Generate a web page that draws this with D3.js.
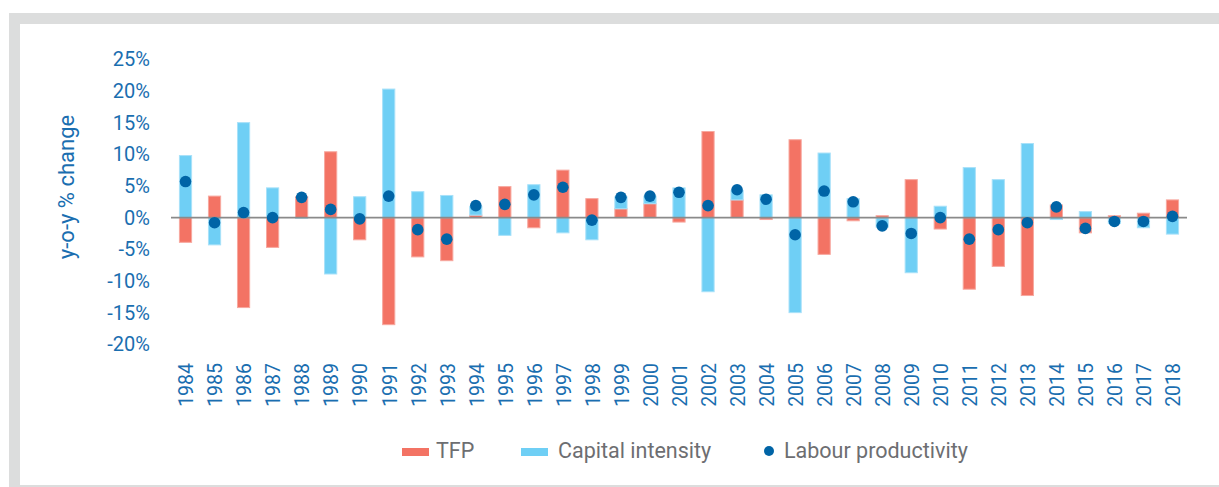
<!DOCTYPE html>
<html>
<head>
<meta charset="utf-8">
<script src="https://cdn.jsdelivr.net/npm/d3@7"></script>
<style>
  html, body { margin: 0; padding: 0; background: #fff; }
  #chart { width: 1219px; height: 487px; }
  text { font-family: Roboto, "Open Sans", sans-serif; }
</style>
</head>
<body>
<div id="chart"></div>
<script>
let years = ["1984","1985","1986","1987","1988","1989","1990","1991","1992","1993",
             "1994","1995","1996","1997","1998","1999","2000","2001","2002","2003",
             "2004","2005","2006","2007","2008","2009","2010","2011","2012","2013",
             "2014","2015","2016","2017","2018"];

let tfp = [-3.9, 3.4, -14.2, -4.7, 3.3, 10.4, -3.5, -16.9, -6.2, -6.8,
           0.4, 4.9, -1.6, 7.5, 3.0, 1.4, 2.2, -0.7, 13.6, 2.8,
           -0.3, 12.3, -5.8, -0.5, 0.3, 6.0, -1.8, -11.3, -7.7, -12.3,
           2.0, -2.4, 0.3, 0.7, 2.8];

let capital = [9.8, -4.3, 15.0, 4.7, -0.1, -8.9, 3.3, 20.3, 4.1, 3.5,
               1.4, -2.8, 5.2, -2.4, -3.5, 1.9, 1.2, 4.7, -11.7, 1.5,
               3.6, -15.0, 10.2, 3.0, -1.5, -8.7, 1.8, 7.9, 6.0, 11.7,
               -0.3, 0.95, -0.9, -1.6, -2.6];

let labour = [5.7, -0.8, 0.8, 0.0, 3.2, 1.3, -0.2, 3.4, -1.9, -3.4,
              1.9, 2.1, 3.6, 4.8, -0.4, 3.2, 3.4, 4.0, 1.9, 4.4,
              2.9, -2.7, 4.2, 2.5, -1.3, -2.5, 0.0, -3.4, -1.9, -0.8,
              1.7, -1.7, -0.6, -0.6, 0.2];

let yTicks = [-20, -15, -10, -5, 0, 5, 10, 15, 20, 25];

let seriesKeys = ["tfp", "capital"];
let colors = { tfp: "#f37364", capital: "#6fcff5", labour: "#0064a6" };
let strokes = { tfp: "#f7a89f", capital: "#a8e1f9" };
let labelBlue = "#1a6eb0";

let drawChart = function() {
    let w = 1219, h = 487;

    let svg = d3.select("#chart")
      .append("svg")
        .attr("width", w)
        .attr("height", h);

    // grey frame (left and top thick bars, thin bottom line)
    svg.append("rect").attr("x", 9).attr("y", 13).attr("width", w - 9).attr("height", 11).attr("fill", "#dcdddd");
    svg.append("rect").attr("x", 9).attr("y", 13).attr("width", 11).attr("height", h - 13).attr("fill", "#dcdddd");
    svg.append("rect").attr("x", 9).attr("y", 485).attr("width", w - 9).attr("height", 2).attr("fill", "#dcdddd");

    let x = d3.scaleBand()
        .domain(years)
        .range([171, 1187])
        .paddingInner(0.58)
        .paddingOuter(0.29);

    let y = d3.scaleLinear()
        .domain([-20, 25])
        .range([344.3, 59.3]);

    let rows = years.map(function(yr, i) {
        return { year: yr, tfp: tfp[i], capital: capital[i], labour: labour[i] };
    });

    let stacked = d3.stack()
        .keys(seriesKeys)
        .offset(d3.stackOffsetDiverging)(rows);

    // y axis labels
    let yAxis = d3.axisLeft(y)
        .tickValues(yTicks)
        .tickSize(0)
        .tickPadding(0)
        .tickFormat(function(d) { return d + "%"; });
    let gy = svg.append("g")
        .attr("transform", "translate(150,0)")
        .call(yAxis);
    gy.select(".domain").remove();
    gy.selectAll("text")
        .attr("fill", labelBlue)
        .attr("font-size", 20)
        .attr("font-family", "Roboto, sans-serif");

    svg.append("text")
        .attr("transform", "translate(74,187) rotate(-90)")
        .attr("text-anchor", "middle")
        .attr("fill", labelBlue)
        .attr("font-size", 22)
        .text("y-o-y % change");

    // bars
    svg.append("g").selectAll("g")
        .data(stacked)
      .enter().append("g")
        .attr("fill", function(d) { return colors[d.key]; })
        .attr("stroke", function(d) { return strokes[d.key]; })
        .attr("stroke-width", 1)
      .selectAll("rect")
        .data(function(d) { return d; })
      .enter().append("rect")
        .attr("x", function(d) { return x(d.data.year); })
        .attr("width", x.bandwidth())
        .attr("y", function(d) { return y(Math.max(d[0], d[1])); })
        .attr("height", function(d) { return Math.abs(y(d[0]) - y(d[1])); });

    // zero line
    svg.append("line")
        .attr("x1", 171).attr("x2", 1187)
        .attr("y1", y(0)).attr("y2", y(0))
        .attr("stroke", "#8a8a8a")
        .attr("stroke-width", 1.6);

    // labour productivity dots
    svg.append("g").selectAll("circle")
        .data(rows)
      .enter().append("circle")
        .attr("cx", function(d) { return x(d.year) + x.bandwidth() / 2; })
        .attr("cy", function(d) { return y(d.labour); })
        .attr("r", 5.8)
        .attr("fill", colors.labour);

    // year labels
    let xAxis = d3.axisBottom(x).tickSize(0).tickPadding(0);
    let gx = svg.append("g")
        .attr("transform", "translate(0,363)")
        .call(xAxis);
    gx.select(".domain").remove();
    gx.selectAll("text")
        .attr("transform", "rotate(-90)")
        .attr("text-anchor", "end")
        .attr("x", 0)
        .attr("y", 0)
        .attr("dx", 0)
        .attr("dy", "0.4em")
        .attr("fill", labelBlue)
        .attr("font-size", 19.5)
        .attr("font-family", "Roboto, sans-serif");

    // legend
    let legend = svg.append("g").attr("font-size", 21.5).attr("fill", "#6d6e71");
    legend.append("rect").attr("x", 402).attr("y", 448).attr("width", 27).attr("height", 8).attr("fill", colors.tfp);
    legend.append("text").attr("x", 436).attr("y", 458).text("TFP");
    legend.append("rect").attr("x", 521).attr("y", 448).attr("width", 27).attr("height", 8).attr("fill", colors.capital);
    legend.append("text").attr("x", 558).attr("y", 458).text("Capital intensity");
    legend.append("circle").attr("cx", 769).attr("cy", 451).attr("r", 5).attr("fill", colors.labour);
    legend.append("text").attr("x", 784).attr("y", 458).text("Labour productivity");
};

drawChart();
</script>
</body>
</html>
